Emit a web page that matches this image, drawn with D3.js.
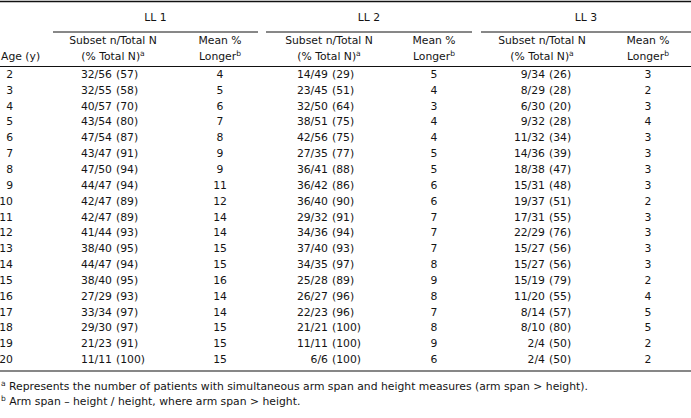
<!DOCTYPE html>
<html><head><meta charset="utf-8">
<script src="https://cdn.jsdelivr.net/npm/d3@7"></script>
<style>
body{margin:0;background:#fff;}
svg text{font-family:"DejaVu Sans",sans-serif;fill:#141414;}
</style></head>
<body><svg id="t" width="691" height="418"></svg>
<script>
const ages = [2,3,4,5,6,7,8,9,10,11,12,13,14,15,16,17,18,19,20];
const groups = ["LL 1","LL 2","LL 3"];
const ll1Subset = [32,32,40,43,47,43,47,44,42,42,41,38,44,38,27,33,29,21,11];
const ll1Total  = [56,55,57,54,54,47,50,47,47,47,44,40,47,40,29,34,30,23,11];
const ll1Pct    = [57,58,70,80,87,91,94,94,89,89,93,95,94,95,93,97,97,91,100];
const ll1Mean   = [4,5,6,7,8,9,9,11,12,14,14,15,15,16,14,14,15,15,15];
const ll2Subset = [14,23,32,38,42,27,36,36,36,29,34,37,34,25,26,22,21,11,6];
const ll2Total  = [49,45,50,51,56,35,41,42,40,32,36,40,35,28,27,23,21,11,6];
const ll2Pct    = [29,51,64,75,75,77,88,86,90,91,94,93,97,89,96,96,100,100,100];
const ll2Mean   = [5,4,3,4,4,5,5,6,6,7,7,7,8,9,8,7,8,9,6];
const ll3Subset = [9,8,6,9,11,14,18,15,19,17,22,15,15,15,11,8,8,2,2];
const ll3Total  = [34,29,30,32,32,36,38,31,37,31,29,27,27,19,20,14,10,4,4];
const ll3Pct    = [26,28,20,28,34,39,47,48,51,55,76,56,56,79,55,57,80,50,50];
const ll3Mean   = [3,2,3,4,3,3,3,3,2,3,3,3,3,2,4,5,5,2,2];
const footnotes = [
  {mark:"a", text:"Represents the number of patients with simultaneous arm span and height measures (arm span > height)."},
  {mark:"b", text:"Arm span \u2013 height / height, where arm span > height."}
];

const series = [
  {subset:ll1Subset,total:ll1Total,pct:ll1Pct,mean:ll1Mean},
  {subset:ll2Subset,total:ll2Total,pct:ll2Pct,mean:ll2Mean},
  {subset:ll3Subset,total:ll3Total,pct:ll3Pct,mean:ll3Mean}
];

const W = 691, FS = 10.8;
const svg = d3.select("#t");

// scales
const y = d3.scaleBand().domain(ages).range([66, 367]);
const groupX = d3.scaleOrdinal().domain(groups).range([[53,258],[266,472],[481,691]]);
const subsetHeadX = d3.scaleOrdinal().domain(groups).range([113, 329, 542]);
const splitX = d3.scaleOrdinal().domain(groups).range([112, 328, 545]);
const meanX = d3.scaleOrdinal().domain(groups).range([220, 434, 648]);

function line(x1,x2,yy,w){
  svg.append("line").attr("x1",x1).attr("x2",x2).attr("y1",yy).attr("y2",yy)
    .attr("stroke","#111").attr("stroke-width",w);
}
function sup(t, s){
  t.append("tspan").attr("dy",-4).attr("font-size",FS*0.7).text(s);
}

// rules
line(0, W, 1.5, 1.5);
groups.forEach(g => { const [a,b] = groupX(g); line(a,b,32,1); });
line(0, W, 66.5, 1.2);
line(0, W, 371, 1.2);

// group headers
svg.selectAll("text.grp").data(groups).join("text").attr("class","grp")
  .attr("x", g => (groupX(g)[0]+groupX(g)[1])/2).attr("y", 21)
  .attr("text-anchor","middle").attr("font-size",FS).text(g => g);

// column headers
svg.append("text").attr("x",1).attr("y",60).attr("font-size",FS).text("Age (y)");
groups.forEach(g => {
  svg.append("text").attr("x",subsetHeadX(g)).attr("y",44).attr("text-anchor","middle")
    .attr("font-size",FS).text("Subset n/Total N");
  const t2 = svg.append("text").attr("x",subsetHeadX(g)).attr("y",60).attr("text-anchor","middle")
    .attr("font-size",FS);
  t2.append("tspan").text("(% Total N)");
  sup(t2,"a");
  svg.append("text").attr("x",meanX(g)).attr("y",44).attr("text-anchor","middle")
    .attr("font-size",FS).text("Mean %");
  const t3 = svg.append("text").attr("x",meanX(g)).attr("y",60).attr("text-anchor","middle")
    .attr("font-size",FS);
  t3.append("tspan").text("Longer");
  sup(t3,"b");
});

// body
const rowY = a => y(a) + y.bandwidth()/2 + 4;
svg.selectAll("text.age").data(ages).join("text").attr("class","age")
  .attr("x",13).attr("y",rowY).attr("text-anchor","end").attr("font-size",FS).text(d=>d);

groups.forEach((g,gi) => {
  const s = series[gi];
  const rows = ages.map((a,i)=>({a, n:s.subset[i], N:s.total[i], p:s.pct[i], m:s.mean[i]}));
  svg.selectAll("text.n"+gi).data(rows).join("text").attr("class","n"+gi)
    .attr("x",splitX(g)).attr("y",d=>rowY(d.a)).attr("text-anchor","end").attr("font-size",FS)
    .text(d=>`${d.n}/${d.N}`);
  svg.selectAll("text.p"+gi).data(rows).join("text").attr("class","p"+gi)
    .attr("x",splitX(g)+4).attr("y",d=>rowY(d.a)).attr("text-anchor","start").attr("font-size",FS)
    .text(d=>`(${d.p})`);
  svg.selectAll("text.m"+gi).data(rows).join("text").attr("class","m"+gi)
    .attr("x",meanX(g)).attr("y",d=>rowY(d.a)).attr("text-anchor","middle").attr("font-size",FS)
    .text(d=>d.m);
});

// footnotes
footnotes.forEach((f,i) => {
  const t = svg.append("text").attr("x",1).attr("y",390 + i*14.5).attr("font-size",FS);
  t.append("tspan").attr("font-size",FS*0.7).attr("dy",-4).text(f.mark);
  t.append("tspan").attr("dy",4).text(" " + f.text);
});
</script></body></html>
